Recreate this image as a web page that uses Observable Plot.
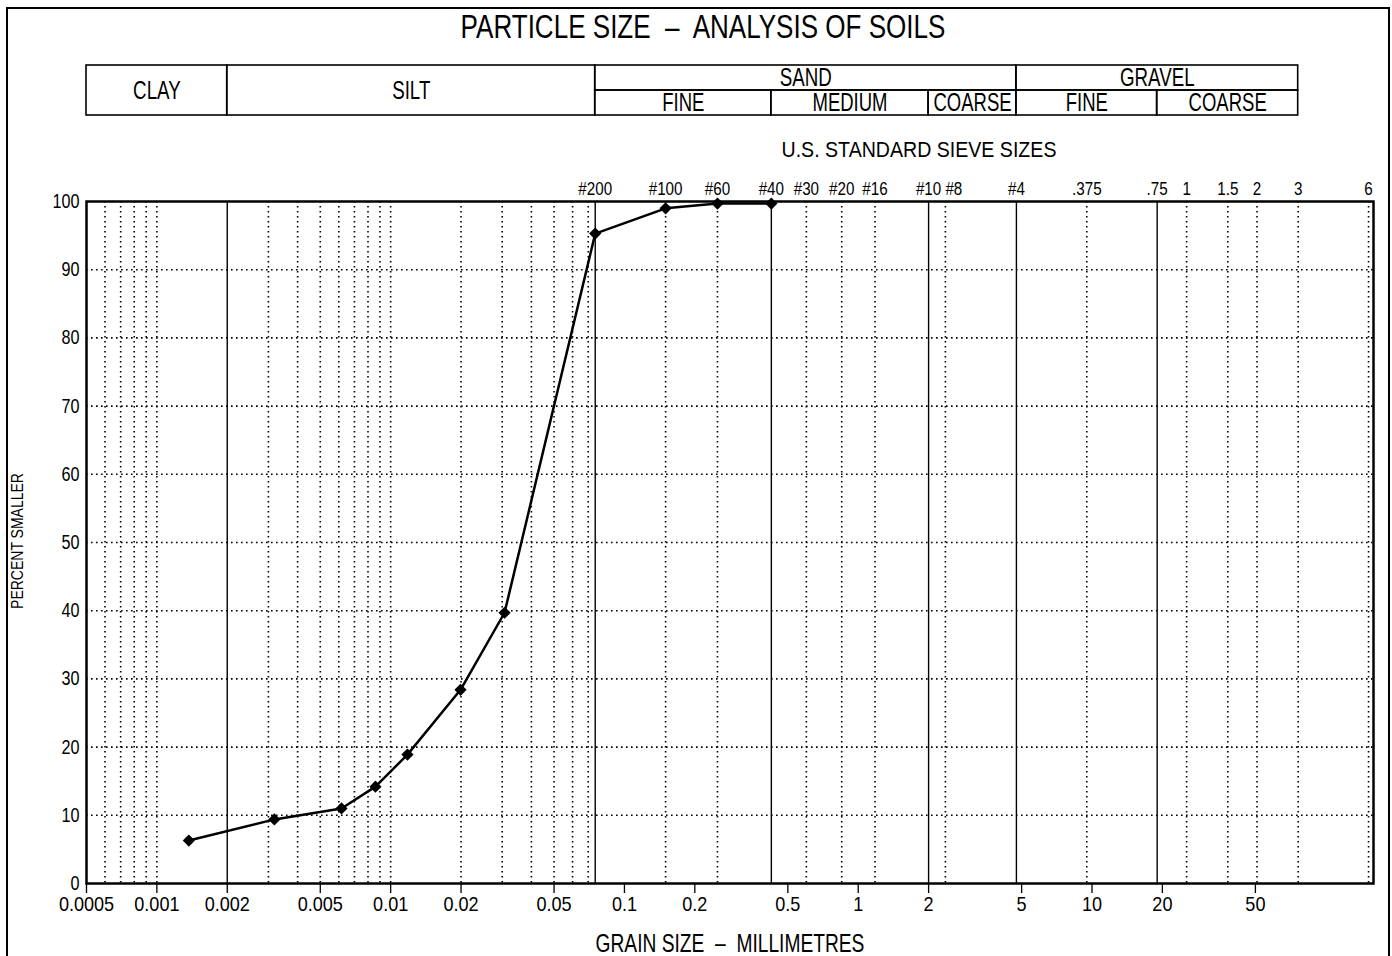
<!DOCTYPE html>
<html>
<head>
<meta charset="utf-8">
<script src="https://cdn.jsdelivr.net/npm/d3@7"></script>
<script src="https://cdn.jsdelivr.net/npm/@observablehq/plot@0.6"></script>
<style>
  html, body { margin: 0; padding: 0; background: #fff; overflow: hidden; }
  #page { position: relative; width: 1392px; height: 956px; color: #000;
    font-family: "Liberation Sans", Arial, sans-serif; }
  #border { position: absolute; left: 6px; top: 7px; width: 1384px; height: 970px; border: 2px solid #000; box-sizing: border-box; }
  .lbl { position: absolute; white-space: nowrap; line-height: 1; }
  #title { left: 703px; top: 11px; font-size: 31px; transform: translateX(-50%) scale(0.84, 1.05); }
  #sieveTitle { left: 919px; top: 139px; font-size: 22px; transform: translateX(-50%) scale(0.89, 1.02); }
  #xTitle { left: 730px; top: 931px; font-size: 24px; transform: translateX(-50%) scale(0.8, 1.1); }
  #yTitle { left: 17px; top: 541px; font-size: 17px; transform: translate(-50%, -50%) rotate(-90deg) scale(0.823, 1); }
  #header { position: absolute; left: 0; top: 55px; }
  #main { position: absolute; left: 0; top: 150px; }
  svg text { fill: #000; }
</style>
</head>
<body>
<div id="page">
  <div id="border"></div>
  <div id="title" class="lbl">PARTICLE SIZE &nbsp;–&nbsp; ANALYSIS OF SOILS</div>
  <div id="header"></div>
  <div id="sieveTitle" class="lbl">U.S. STANDARD SIEVE SIZES</div>
  <div id="main"></div>
  <div id="yTitle" class="lbl">PERCENT SMALLER</div>
  <div id="xTitle" class="lbl">GRAIN SIZE &nbsp;–&nbsp; MILLIMETRES</div>
</div>
<script>
// ---------- data ----------
const grainSize      = [0.00137, 0.00318, 0.00616, 0.00861, 0.0118, 0.0199, 0.0307, 0.075, 0.15, 0.25, 0.425];
const percentSmaller = [6.3, 9.4, 11.0, 14.2, 18.9, 28.4, 39.7, 95.3, 99.0, 99.7, 99.7];

const xDomain = [0.0005, 160];
const xTickValues = [0.0005, 0.001, 0.002, 0.005, 0.01, 0.02, 0.05, 0.1, 0.2, 0.5, 1, 2, 5, 10, 20, 50];
const yTickValues = [0, 10, 20, 30, 40, 50, 60, 70, 80, 90, 100];
const yGridValues = [10, 20, 30, 40, 50, 60, 70, 80, 90];

const sieveLabels = ["#200", "#100", "#60", "#40", "#30", "#20", "#16", "#10", "#8", "#4", ".375", ".75", "1", "1.5", "2", "3", "6"];
const sieveSizes  = [0.075, 0.15, 0.25, 0.425, 0.6, 0.85, 1.18, 2.0, 2.36, 4.75, 9.5, 19.0, 25.4, 38.1, 50.8, 76.2, 152.4];

const logGridValues = [0.0006, 0.0007, 0.0008, 0.0009, 0.001, 0.003, 0.004, 0.005, 0.006, 0.007, 0.008, 0.009,
                       0.01, 0.02, 0.03, 0.04, 0.05, 0.06, 0.07];
const boundaryValues = [0.002, 0.075, 0.425, 2.0, 4.75, 19.0];

const classNames = ["CLAY", "SILT", "SAND", "GRAVEL"];
const classFrom  = [0.0005, 0.002, 0.075, 4.75];
const classTo    = [0.002, 0.075, 4.75, 76.2];
const classSplit = [false, false, true, true];

const subNames = ["FINE", "MEDIUM", "COARSE", "FINE", "COARSE"];
const subFrom  = [0.075, 0.425, 2.0, 4.75, 19.0];
const subTo    = [0.425, 2.0, 4.75, 19.0, 76.2];

// ---------- build tables ----------
const FONT = '"Liberation Sans", Arial, sans-serif';
const points = grainSize.map((g, i) => ({size: g, pct: percentSmaller[i]}));
const sieves = sieveSizes.map((s, i) => ({size: s, label: sieveLabels[i]}));
const dottedX = logGridValues.concat(sieveSizes.filter(s => !boundaryValues.includes(s)));
const classes = classNames.map((n, i) => ({name: n, x1: classFrom[i], x2: classTo[i],
  xm: Math.sqrt(classFrom[i] * classTo[i]), y1: classSplit[i] ? 1 : 0, y2: 2, ym: classSplit[i] ? 1.5 : 1}));
const subs = subNames.map((n, i) => ({name: n, x1: subFrom[i], x2: subTo[i],
  xm: Math.sqrt(subFrom[i] * subTo[i]), y1: 0, y2: 1, ym: 0.5}));

const ML = 86, MR = 19;
const dotStyle = {stroke: "#000", strokeWidth: 1.6, strokeDasharray: "1.6,3.4"};

// condense SVG text horizontally (narrow CAD-like lettering) keyed by font size
function squash(svg, factors) {
  svg.querySelectorAll("text").forEach(el => {
    const fs = Math.round(parseFloat(getComputedStyle(el).fontSize));
    const f = factors[fs];
    if (!f) return;
    const len = el.getComputedTextLength();
    if (!(len > 0)) return;
    el.setAttribute("textLength", (len * f).toFixed(2));
    el.setAttribute("lengthAdjust", "spacingAndGlyphs");
  });
}

// ---------- header classification table ----------
const header = Plot.plot({
  width: 1392, height: 70,
  marginLeft: ML, marginRight: MR, marginTop: 10, marginBottom: 10,
  x: {type: "log", domain: xDomain, axis: null},
  y: {domain: [0, 2], axis: null},
  style: {fontFamily: FONT, background: "transparent", overflow: "visible"},
  marks: [
    Plot.rect(classes, {x1: "x1", x2: "x2", y1: "y1", y2: "y2", fill: "none", stroke: "#000", strokeWidth: 1.6}),
    Plot.rect(subs, {x1: "x1", x2: "x2", y1: "y1", y2: "y2", fill: "none", stroke: "#000", strokeWidth: 1.6}),
    Plot.text(classes, {x: "xm", y: "ym", text: "name", fontSize: 26}),
    Plot.text(subs, {x: "xm", y: "ym", text: "name", fontSize: 25})
  ]
});
document.getElementById("header").appendChild(header);
squash(header, {26: 0.72, 25: 0.74});

// ---------- main chart ----------
const main = Plot.plot({
  width: 1392, height: 806,
  marginLeft: ML, marginRight: MR, marginTop: 51, marginBottom: 73,
  x: {type: "log", domain: xDomain},
  y: {domain: [0, 100]},
  style: {fontFamily: FONT, background: "transparent", overflow: "visible"},
  marks: [
    Plot.ruleY(yGridValues, dotStyle),
    Plot.ruleX(dottedX, dotStyle),
    Plot.ruleX(boundaryValues, {stroke: "#000", strokeWidth: 1.4}),
    Plot.frame({stroke: "#000", strokeWidth: 2.5}),
    Plot.axisX(xTickValues, {anchor: "bottom", tickSize: 10, tickPadding: 3, text: d => String(d),
      fontSize: 21, label: null, strokeWidth: 1.3}),
    Plot.axisY(yTickValues, {anchor: "left", tickSize: 0, tickPadding: 7, fontSize: 20, label: null}),
    Plot.text(sieves.filter(d => d.label !== "#8"), {x: "size", text: "label", frameAnchor: "top",
      lineAnchor: "middle", dy: -13, fontSize: 19}),
    Plot.text(sieves.filter(d => d.label === "#8"), {x: "size", text: "label", frameAnchor: "top",
      lineAnchor: "middle", dy: -13, fontSize: 19, textAnchor: "start"}),
    Plot.line(points, {x: "size", y: "pct", stroke: "#000", strokeWidth: 2.5}),
    Plot.dot(points, {x: "size", y: "pct", symbol: "diamond2", r: 5.5, fill: "#000", stroke: "none"})
  ]
});
document.getElementById("main").appendChild(main);
squash(main, {21: 0.86, 20: 0.81, 19: 0.8});
</script>
</body>
</html>
